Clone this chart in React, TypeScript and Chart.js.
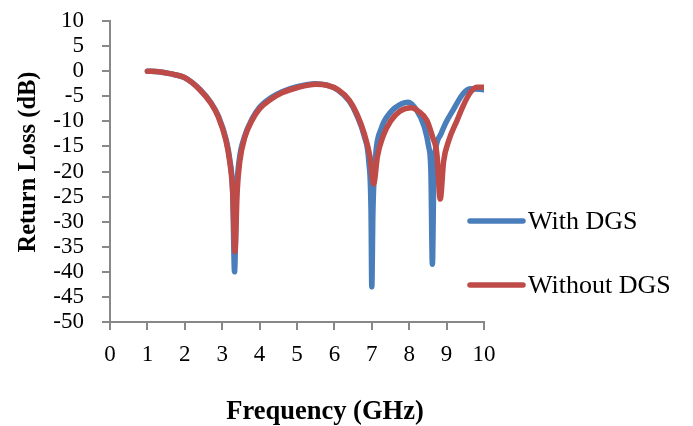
import React, { useEffect, useRef } from "react";
import { Chart, registerables } from "chart.js";

Chart.register(...registerables);

const freqWith = [1.0, 1.3, 1.6, 2.0, 2.4, 2.7, 2.9, 3.1, 3.2, 3.28, 3.33, 3.38, 3.45, 3.6, 3.8, 4.0, 4.3, 4.6, 5.0, 5.5, 5.8, 6.1, 6.4, 6.6, 6.8, 6.92, 6.98, 7.0, 7.03, 7.1, 7.25, 7.5, 7.8, 7.97, 8.2, 8.4, 8.52, 8.58, 8.62, 8.66, 8.72, 8.85, 9.0, 9.17, 9.45, 9.65, 10.0];
const rlWith = [0, -0.1, -0.5, -1.3, -3.6, -6.3, -9.0, -13.5, -17.5, -24, -40, -25, -18, -13, -9.5, -7.2, -5.3, -4.1, -3.1, -2.5, -2.8, -3.8, -6.0, -8.8, -13, -18, -28, -43, -28, -17, -11.5, -8.2, -6.5, -6.2, -7.8, -11, -15, -20, -38.5, -20, -15, -12.5, -10, -7.8, -4.4, -3.5, -3.7];

const freqWithout = [1.0, 1.3, 1.6, 2.0, 2.4, 2.7, 2.9, 3.1, 3.2, 3.28, 3.34, 3.4, 3.47, 3.6, 3.8, 4.0, 4.3, 4.6, 5.0, 5.5, 5.8, 6.1, 6.4, 6.6, 6.8, 6.95, 7.05, 7.15, 7.3, 7.5, 7.75, 8.05, 8.25, 8.47, 8.62, 8.74, 8.83, 8.92, 9.05, 9.28, 9.45, 9.62, 9.8, 10.0];
const rlWithout = [0, -0.1, -0.5, -1.3, -3.7, -6.4, -9.2, -13.8, -18, -24, -36, -24, -18, -13.3, -9.8, -7.5, -5.6, -4.3, -3.3, -2.6, -2.8, -3.7, -5.8, -8.5, -12.5, -17, -22.5, -17, -13, -10, -8, -7.3, -8, -9.8, -13, -16.5, -25.5, -18, -14, -9.8, -6.8, -4.4, -3.2, -3.2];

const seriesLabels = ["With DGS", "Without DGS"];
const seriesColors = ["#4A7EBB", "#BE4B48"];
const xTitle = "Frequency (GHz)";
const yTitle = "Return Loss (dB)";

const FONT = "'Liberation Serif', 'Times New Roman', serif";

const overlayPlugin = {
  id: "overlay",
  afterDraw(chart: any) {
    const ctx = chart.ctx;
    ctx.save();
    ctx.fillStyle = "#000";
    ctx.textAlign = "center";
    ctx.textBaseline = "middle";
    ctx.font = `bold 26.5px ${FONT}`;
    ctx.fillText(xTitle, 325, 412);
    ctx.font = `bold 24.5px ${FONT}`;
    ctx.translate(29, 162);
    ctx.rotate(-Math.PI / 2);
    ctx.fillText(yTitle, 0, 0);
    ctx.restore();

    ctx.save();
    ctx.font = `26px ${FONT}`;
    ctx.textAlign = "left";
    ctx.textBaseline = "middle";
    const ys = [221, 285];
    chart.data.datasets.forEach((ds: any, i: number) => {
      ctx.strokeStyle = ds.borderColor;
      ctx.lineWidth = 5.5;
      ctx.lineCap = "round";
      ctx.beginPath();
      ctx.moveTo(470, ys[i]);
      ctx.lineTo(523, ys[i]);
      ctx.stroke();
      ctx.fillStyle = "#000";
      ctx.fillText(ds.label, 528, ys[i] + 1);
    });
    ctx.restore();
  },
};

export default function App() {
  const ref = useRef<HTMLCanvasElement | null>(null);
  useEffect(() => {
    document.body.style.margin = "0";
    const canvas = ref.current!;
    const mk = (xs: number[], ys: number[]) => xs.map((x, i) => ({ x, y: ys[i] }));
    const chart = new Chart(canvas, {
      type: "line",
      data: {
        datasets: [
          {
            label: seriesLabels[0],
            data: mk(freqWith, rlWith),
            borderColor: seriesColors[0],
            backgroundColor: seriesColors[0],
            borderWidth: 5.5,
            pointRadius: 0,
            cubicInterpolationMode: "monotone",
            borderCapStyle: "round",
            borderJoinStyle: "round",
            order: 1,
          },
          {
            label: seriesLabels[1],
            data: mk(freqWithout, rlWithout),
            borderColor: seriesColors[1],
            backgroundColor: seriesColors[1],
            borderWidth: 5.5,
            pointRadius: 0,
            cubicInterpolationMode: "monotone",
            borderCapStyle: "round",
            borderJoinStyle: "round",
            order: 0,
          },
        ],
      },
      options: {
        animation: false,
        responsive: false,
        maintainAspectRatio: false,
        layout: { padding: { left: 0, right: 209, top: 21, bottom: 0 } },
        plugins: { legend: { display: false }, tooltip: { enabled: false }, title: { display: false } },
        scales: {
          x: {
            type: "linear",
            min: 0,
            max: 10,
            ticks: { stepSize: 1, autoSkip: false, color: "#000", font: { family: FONT, size: 23 }, padding: 11, maxRotation: 0 },
            grid: { drawOnChartArea: false, drawTicks: true, tickLength: 8, color: "#888", lineWidth: 2 },
            border: { color: "#888", width: 2 },
            afterFit(scale: any) {
              scale.height = 104;
              scale.paddingLeft = 0;
              scale.paddingRight = 0;
            },
          },
          y: {
            type: "linear",
            min: -50,
            max: 10,
            ticks: { stepSize: 5, autoSkip: false, color: "#000", font: { family: FONT, size: 23 }, padding: 18 },
            grid: { drawOnChartArea: false, drawTicks: true, tickLength: 8, color: "#888", lineWidth: 2 },
            border: { color: "#888", width: 2 },
            afterFit(scale: any) {
              scale.width = 110;
              scale.paddingTop = 0;
              scale.paddingBottom = 0;
            },
          },
        },
      },
      plugins: [overlayPlugin],
    });
    return () => chart.destroy();
  }, []);
  return (
    <div style={{ width: 693, height: 426, background: "#fff" }}>
      <canvas ref={ref} width={693} height={426} style={{ display: "block" }} />
    </div>
  );
}
